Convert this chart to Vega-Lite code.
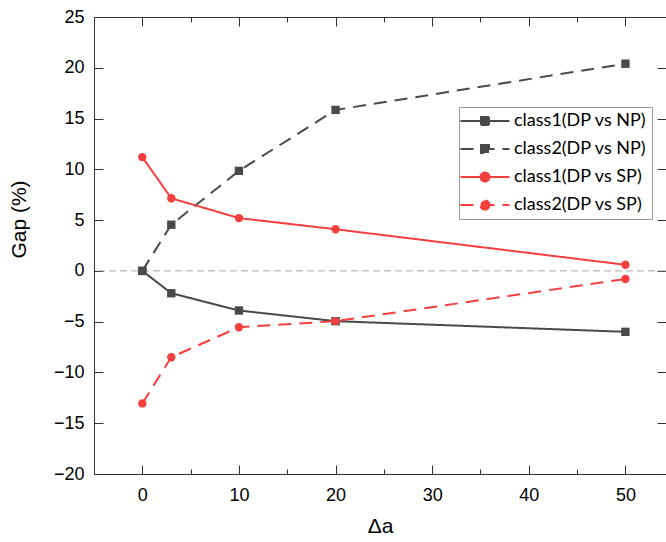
{
  "$schema": "https://vega.github.io/schema/vega-lite/v6.json",
  "autosize": "none",
  "padding": {"left": 94, "top": 17, "right": 0, "bottom": 68},
  "width": 572,
  "height": 457,
  "background": "white",
  "config": {
    "view": {"stroke": null},
    "font": "Arial",
    "axis": {
      "grid": false,
      "domainColor": "#333333",
      "domainWidth": 1,
      "tickColor": "#333333",
      "tickWidth": 1,
      "labelColor": "black",
      "labelFont": "Arial",
      "labelFontSize": 18,
      "titleFont": "Arial",
      "titleFontSize": 20,
      "titleFontWeight": "normal",
      "titleColor": "black"
    }
  },
  "data": {
    "values": [
      {"a": 0, "gap": 0, "series": "class1(DP vs NP)"},
      {"a": 3, "gap": -2.2, "series": "class1(DP vs NP)"},
      {"a": 10, "gap": -3.9, "series": "class1(DP vs NP)"},
      {"a": 20, "gap": -4.95, "series": "class1(DP vs NP)"},
      {"a": 50, "gap": -6.0, "series": "class1(DP vs NP)"},
      {"a": 0, "gap": 0, "series": "class2(DP vs NP)"},
      {"a": 3, "gap": 4.55, "series": "class2(DP vs NP)"},
      {"a": 10, "gap": 9.85, "series": "class2(DP vs NP)"},
      {"a": 20, "gap": 15.85, "series": "class2(DP vs NP)"},
      {"a": 50, "gap": 20.4, "series": "class2(DP vs NP)"},
      {"a": 0, "gap": 11.2, "series": "class1(DP vs SP)"},
      {"a": 3, "gap": 7.15, "series": "class1(DP vs SP)"},
      {"a": 10, "gap": 5.2, "series": "class1(DP vs SP)"},
      {"a": 20, "gap": 4.1, "series": "class1(DP vs SP)"},
      {"a": 50, "gap": 0.6, "series": "class1(DP vs SP)"},
      {"a": 0, "gap": -13.05, "series": "class2(DP vs SP)"},
      {"a": 3, "gap": -8.5, "series": "class2(DP vs SP)"},
      {"a": 10, "gap": -5.55, "series": "class2(DP vs SP)"},
      {"a": 20, "gap": -4.95, "series": "class2(DP vs SP)"},
      {"a": 50, "gap": -0.8, "series": "class2(DP vs SP)"}
    ]
  },
  "layer": [
    {
      "data": {"values": [{"ref": 0}]},
      "mark": {"type": "rule", "color": "#a8a8a8", "strokeWidth": 1, "strokeDash": [7, 4]},
      "encoding": {
        "y": {
          "field": "ref",
          "type": "quantitative",
          "scale": {"domain": [-20, 25], "nice": false, "zero": false},
          "axis": {
            "orient": "left",
            "values": [-20, -15, -10, -5, 0, 5, 10, 15, 20, 25],
            "ticks": false,
            "labelPadding": 10,
            "labelFont": "Arial",
            "labelFontSize": 18,
            "title": "Gap (%)",
            "titleFont": "Arial",
            "titleFontSize": 21,
            "titleFontWeight": "normal",
            "titlePadding": 24,
            "titleY": 202,
            "titleAnchor": null
          }
        }
      }
    },
    {
      "mark": {"type": "line", "strokeWidth": 2},
      "encoding": {
        "x": {
          "field": "a",
          "type": "quantitative",
          "scale": {"domain": [-5, 54.2], "nice": false, "zero": false},
          "axis": {
            "orient": "bottom",
            "values": [0, 10, 20, 30, 40, 50],
            "ticks": false,
            "labelPadding": 12,
            "labelFont": "Arial",
            "labelFontSize": 18,
            "title": "Δa",
            "titleFont": "Arial",
            "titleFontSize": 21,
            "titleFontWeight": "normal",
            "titlePadding": 11
          }
        },
        "y": {
          "field": "gap",
          "type": "quantitative",
          "axis": {
            "orient": "right",
            "offset": -572,
            "values": [-20, -15, -10, -5, 0, 5, 10, 15, 20, 25],
            "tickSize": 9,
            "domain": false,
            "labels": false,
            "title": null
          }
        },
        "color": {
          "field": "series",
          "type": "nominal",
          "scale": {
            "domain": ["class1(DP vs NP)", "class2(DP vs NP)", "class1(DP vs SP)", "class2(DP vs SP)"],
            "range": ["#4a4a4a", "#4a4a4a", "#f53f3f", "#f53f3f"]
          },
          "legend": {
            "orient": "none",
            "legendX": 365,
            "legendY": 90,
            "title": null,
            "padding": 5,
            "fillColor": "white",
            "strokeColor": "#9a9a9a",
            "labelFont": "Lato",
            "labelFontSize": 18,
            "labelColor": "black",
            "symbolSize": 100,
            "symbolStrokeWidth": 2,
            "symbolOffset": 12,
            "labelOffset": 20,
            "rowPadding": 10,
            "encode": {
              "symbols": {
                "update": {
                  "shape": {"signal": "(datum.value === 'class1(DP vs NP)' || datum.value === 'class2(DP vs NP)') ? 'M-4.9,0H4.9M-0.8,-0.8H0.8V0.8H-0.8Z' : 'M-4.9,0H4.9M0.9,0A0.9,0.9,0,1,1,-0.9,0A0.9,0.9,0,1,1,0.9,0Z'"},
                  "fill": {"signal": "(datum.value === 'class1(DP vs NP)' || datum.value === 'class2(DP vs NP)') ? '#4a4a4a' : '#f53f3f'"}
                }
              }
            }
          }
        },
        "strokeDash": {
          "field": "series",
          "type": "nominal",
          "scale": {
            "domain": ["class1(DP vs NP)", "class2(DP vs NP)", "class1(DP vs SP)", "class2(DP vs SP)"],
            "range": [[1, 0], [13, 8], [1, 0], [13, 8]]
          }
        }
      }
    },
    {
      "mark": {"type": "point", "filled": true, "opacity": 1, "size": 70},
      "encoding": {
        "x": {
          "field": "a",
          "type": "quantitative",
          "axis": {
            "orient": "top",
            "offset": -457,
            "values": [0, 10, 20, 30, 40, 50],
            "tickSize": 9,
            "domain": false,
            "labels": false,
            "title": null
          }
        },
        "y": {
          "field": "gap",
          "type": "quantitative",
          "axis": {
            "orient": "left",
            "offset": -572,
            "values": [-20, -15, -10, -5, 0, 5, 10, 15, 20, 25],
            "tickSize": 9,
            "domain": false,
            "labels": false,
            "title": null
          }
        },
        "fill": {
          "field": "series",
          "type": "nominal",
          "scale": {
            "domain": ["class1(DP vs NP)", "class2(DP vs NP)", "class1(DP vs SP)", "class2(DP vs SP)"],
            "range": ["#4a4a4a", "#4a4a4a", "#f53f3f", "#f53f3f"]
          },
          "legend": null
        },
        "shape": {
          "field": "series",
          "type": "nominal",
          "scale": {
            "domain": ["class1(DP vs NP)", "class2(DP vs NP)", "class1(DP vs SP)", "class2(DP vs SP)"],
            "range": ["square", "square", "circle", "circle"]
          },
          "legend": null
        }
      }
    },
    {
      "mark": {"type": "point", "opacity": 0},
      "encoding": {
        "x": {
          "field": "a",
          "type": "quantitative",
          "axis": {
            "orient": "top",
            "offset": -457,
            "values": [5, 15, 25, 35, 45],
            "tickSize": 5,
            "domain": false,
            "labels": false,
            "title": null
          }
        },
        "y": {"field": "gap", "type": "quantitative", "axis": null}
      }
    },
    {
      "mark": {"type": "point", "opacity": 0},
      "encoding": {
        "x": {
          "field": "a",
          "type": "quantitative",
          "axis": {
            "orient": "bottom",
            "offset": -457,
            "values": [0, 10, 20, 30, 40, 50],
            "tickSize": 9,
            "domain": true,
            "labels": false,
            "title": null
          }
        },
        "y": {"field": "gap", "type": "quantitative", "axis": null}
      }
    },
    {
      "mark": {"type": "point", "opacity": 0},
      "encoding": {
        "x": {
          "field": "a",
          "type": "quantitative",
          "axis": {
            "orient": "bottom",
            "offset": -457,
            "values": [5, 15, 25, 35, 45],
            "tickSize": 5,
            "domain": false,
            "labels": false,
            "title": null
          }
        },
        "y": {"field": "gap", "type": "quantitative", "axis": null}
      }
    }
  ],
  "resolve": {
    "axis": {"x": "independent", "y": "independent"},
    "scale": {"fill": "independent", "shape": "independent"}
  }
}
